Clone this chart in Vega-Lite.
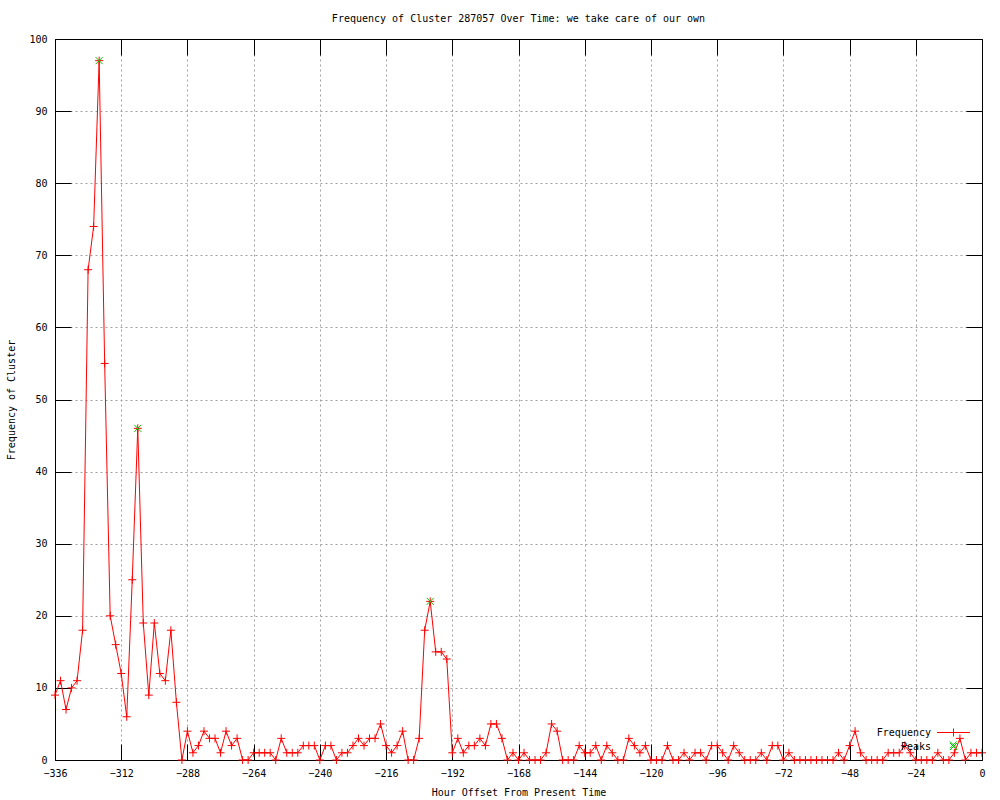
{
  "$schema": "https://vega.github.io/schema/vega-lite/v6.json",
  "width": 927,
  "height": 721,
  "autosize": "none",
  "padding": {"left": 55, "top": 39, "right": 18, "bottom": 40},
  "background": "white",
  "title": {"text": "Frequency of Cluster 287057 Over Time: we take care of our own", "font": "DejaVu Sans Mono", "fontSize": 10, "fontWeight": "normal", "color": "black", "offset": 10, "anchor": "middle"},
  "config": {
    "view": {"stroke": "black", "strokeWidth": 1},
    "axis": {"labelFont": "DejaVu Sans Mono", "labelFontSize": 10, "labelColor": "black", "titleFont": "DejaVu Sans Mono", "titleFontSize": 10, "titleFontWeight": "normal", "titleColor": "black", "domain": true, "domainColor": "black", "domainWidth": 1, "tickColor": "black", "tickWidth": 1, "gridColor": "#a0a0a0", "gridDash": [2, 3], "gridWidth": 1, "gridOpacity": 1}
  },
  "data": {"values": [
    {"h": -336, "v": 9, "s": "Frequency"}, {"h": -334, "v": 11, "s": "Frequency"}, {"h": -332, "v": 7, "s": "Frequency"}, {"h": -330, "v": 10, "s": "Frequency"},
    {"h": -328, "v": 11, "s": "Frequency"}, {"h": -326, "v": 18, "s": "Frequency"}, {"h": -324, "v": 68, "s": "Frequency"}, {"h": -322, "v": 74, "s": "Frequency"},
    {"h": -320, "v": 97, "s": "Frequency"}, {"h": -318, "v": 55, "s": "Frequency"}, {"h": -316, "v": 20, "s": "Frequency"}, {"h": -314, "v": 16, "s": "Frequency"},
    {"h": -312, "v": 12, "s": "Frequency"}, {"h": -310, "v": 6, "s": "Frequency"}, {"h": -308, "v": 25, "s": "Frequency"}, {"h": -306, "v": 46, "s": "Frequency"},
    {"h": -304, "v": 19, "s": "Frequency"}, {"h": -302, "v": 9, "s": "Frequency"}, {"h": -300, "v": 19, "s": "Frequency"}, {"h": -298, "v": 12, "s": "Frequency"},
    {"h": -296, "v": 11, "s": "Frequency"}, {"h": -294, "v": 18, "s": "Frequency"}, {"h": -292, "v": 8, "s": "Frequency"}, {"h": -290, "v": 0, "s": "Frequency"},
    {"h": -288, "v": 4, "s": "Frequency"}, {"h": -286, "v": 1, "s": "Frequency"}, {"h": -284, "v": 2, "s": "Frequency"}, {"h": -282, "v": 4, "s": "Frequency"},
    {"h": -280, "v": 3, "s": "Frequency"}, {"h": -278, "v": 3, "s": "Frequency"}, {"h": -276, "v": 1, "s": "Frequency"}, {"h": -274, "v": 4, "s": "Frequency"},
    {"h": -272, "v": 2, "s": "Frequency"}, {"h": -270, "v": 3, "s": "Frequency"}, {"h": -268, "v": 0, "s": "Frequency"}, {"h": -266, "v": 0, "s": "Frequency"},
    {"h": -264, "v": 1, "s": "Frequency"}, {"h": -262, "v": 1, "s": "Frequency"}, {"h": -260, "v": 1, "s": "Frequency"}, {"h": -258, "v": 1, "s": "Frequency"},
    {"h": -256, "v": 0, "s": "Frequency"}, {"h": -254, "v": 3, "s": "Frequency"}, {"h": -252, "v": 1, "s": "Frequency"}, {"h": -250, "v": 1, "s": "Frequency"},
    {"h": -248, "v": 1, "s": "Frequency"}, {"h": -246, "v": 2, "s": "Frequency"}, {"h": -244, "v": 2, "s": "Frequency"}, {"h": -242, "v": 2, "s": "Frequency"},
    {"h": -240, "v": 0, "s": "Frequency"}, {"h": -238, "v": 2, "s": "Frequency"}, {"h": -236, "v": 2, "s": "Frequency"}, {"h": -234, "v": 0, "s": "Frequency"},
    {"h": -232, "v": 1, "s": "Frequency"}, {"h": -230, "v": 1, "s": "Frequency"}, {"h": -228, "v": 2, "s": "Frequency"}, {"h": -226, "v": 3, "s": "Frequency"},
    {"h": -224, "v": 2, "s": "Frequency"}, {"h": -222, "v": 3, "s": "Frequency"}, {"h": -220, "v": 3, "s": "Frequency"}, {"h": -218, "v": 5, "s": "Frequency"},
    {"h": -216, "v": 2, "s": "Frequency"}, {"h": -214, "v": 1, "s": "Frequency"}, {"h": -212, "v": 2, "s": "Frequency"}, {"h": -210, "v": 4, "s": "Frequency"},
    {"h": -208, "v": 0, "s": "Frequency"}, {"h": -206, "v": 0, "s": "Frequency"}, {"h": -204, "v": 3, "s": "Frequency"}, {"h": -202, "v": 18, "s": "Frequency"},
    {"h": -200, "v": 22, "s": "Frequency"}, {"h": -198, "v": 15, "s": "Frequency"}, {"h": -196, "v": 15, "s": "Frequency"}, {"h": -194, "v": 14, "s": "Frequency"},
    {"h": -192, "v": 1, "s": "Frequency"}, {"h": -190, "v": 3, "s": "Frequency"}, {"h": -188, "v": 1, "s": "Frequency"}, {"h": -186, "v": 2, "s": "Frequency"},
    {"h": -184, "v": 2, "s": "Frequency"}, {"h": -182, "v": 3, "s": "Frequency"}, {"h": -180, "v": 2, "s": "Frequency"}, {"h": -178, "v": 5, "s": "Frequency"},
    {"h": -176, "v": 5, "s": "Frequency"}, {"h": -174, "v": 3, "s": "Frequency"}, {"h": -172, "v": 0, "s": "Frequency"}, {"h": -170, "v": 1, "s": "Frequency"},
    {"h": -168, "v": 0, "s": "Frequency"}, {"h": -166, "v": 1, "s": "Frequency"}, {"h": -164, "v": 0, "s": "Frequency"}, {"h": -162, "v": 0, "s": "Frequency"},
    {"h": -160, "v": 0, "s": "Frequency"}, {"h": -158, "v": 1, "s": "Frequency"}, {"h": -156, "v": 5, "s": "Frequency"}, {"h": -154, "v": 4, "s": "Frequency"},
    {"h": -152, "v": 0, "s": "Frequency"}, {"h": -150, "v": 0, "s": "Frequency"}, {"h": -148, "v": 0, "s": "Frequency"}, {"h": -146, "v": 2, "s": "Frequency"},
    {"h": -144, "v": 1, "s": "Frequency"}, {"h": -142, "v": 1, "s": "Frequency"}, {"h": -140, "v": 2, "s": "Frequency"}, {"h": -138, "v": 0, "s": "Frequency"},
    {"h": -136, "v": 2, "s": "Frequency"}, {"h": -134, "v": 1, "s": "Frequency"}, {"h": -132, "v": 0, "s": "Frequency"}, {"h": -130, "v": 0, "s": "Frequency"},
    {"h": -128, "v": 3, "s": "Frequency"}, {"h": -126, "v": 2, "s": "Frequency"}, {"h": -124, "v": 1, "s": "Frequency"}, {"h": -122, "v": 2, "s": "Frequency"},
    {"h": -120, "v": 0, "s": "Frequency"}, {"h": -118, "v": 0, "s": "Frequency"}, {"h": -116, "v": 0, "s": "Frequency"}, {"h": -114, "v": 2, "s": "Frequency"},
    {"h": -112, "v": 0, "s": "Frequency"}, {"h": -110, "v": 0, "s": "Frequency"}, {"h": -108, "v": 1, "s": "Frequency"}, {"h": -106, "v": 0, "s": "Frequency"},
    {"h": -104, "v": 1, "s": "Frequency"}, {"h": -102, "v": 1, "s": "Frequency"}, {"h": -100, "v": 0, "s": "Frequency"}, {"h": -98, "v": 2, "s": "Frequency"},
    {"h": -96, "v": 2, "s": "Frequency"}, {"h": -94, "v": 1, "s": "Frequency"}, {"h": -92, "v": 0, "s": "Frequency"}, {"h": -90, "v": 2, "s": "Frequency"},
    {"h": -88, "v": 1, "s": "Frequency"}, {"h": -86, "v": 0, "s": "Frequency"}, {"h": -84, "v": 0, "s": "Frequency"}, {"h": -82, "v": 0, "s": "Frequency"},
    {"h": -80, "v": 1, "s": "Frequency"}, {"h": -78, "v": 0, "s": "Frequency"}, {"h": -76, "v": 2, "s": "Frequency"}, {"h": -74, "v": 2, "s": "Frequency"},
    {"h": -72, "v": 0, "s": "Frequency"}, {"h": -70, "v": 1, "s": "Frequency"}, {"h": -68, "v": 0, "s": "Frequency"}, {"h": -66, "v": 0, "s": "Frequency"},
    {"h": -64, "v": 0, "s": "Frequency"}, {"h": -62, "v": 0, "s": "Frequency"}, {"h": -60, "v": 0, "s": "Frequency"}, {"h": -58, "v": 0, "s": "Frequency"},
    {"h": -56, "v": 0, "s": "Frequency"}, {"h": -54, "v": 0, "s": "Frequency"}, {"h": -52, "v": 1, "s": "Frequency"}, {"h": -50, "v": 0, "s": "Frequency"},
    {"h": -48, "v": 2, "s": "Frequency"}, {"h": -46, "v": 4, "s": "Frequency"}, {"h": -44, "v": 1, "s": "Frequency"}, {"h": -42, "v": 0, "s": "Frequency"},
    {"h": -40, "v": 0, "s": "Frequency"}, {"h": -38, "v": 0, "s": "Frequency"}, {"h": -36, "v": 0, "s": "Frequency"}, {"h": -34, "v": 1, "s": "Frequency"},
    {"h": -32, "v": 1, "s": "Frequency"}, {"h": -30, "v": 1, "s": "Frequency"}, {"h": -28, "v": 2, "s": "Frequency"}, {"h": -26, "v": 1, "s": "Frequency"},
    {"h": -24, "v": 0, "s": "Frequency"}, {"h": -22, "v": 0, "s": "Frequency"}, {"h": -20, "v": 0, "s": "Frequency"}, {"h": -18, "v": 0, "s": "Frequency"},
    {"h": -16, "v": 1, "s": "Frequency"}, {"h": -14, "v": 0, "s": "Frequency"}, {"h": -12, "v": 0, "s": "Frequency"}, {"h": -10, "v": 1, "s": "Frequency"},
    {"h": -8, "v": 3, "s": "Frequency"}, {"h": -6, "v": 0, "s": "Frequency"}, {"h": -4, "v": 1, "s": "Frequency"}, {"h": -2, "v": 1, "s": "Frequency"},
    {"h": 0, "v": 1, "s": "Frequency"},
    {"h": -320, "v": 97, "s": "Peaks"}, {"h": -306, "v": 46, "s": "Peaks"}, {"h": -200, "v": 22, "s": "Peaks"}, {"h": -10.4, "v": 2.1, "s": "Peaks"}
  ]},
  "layer": [
    {
      "transform": [{"filter": "datum.s === 'Frequency'"}],
      "mark": {"type": "line", "color": "#ff0000", "strokeWidth": 1},
      "encoding": {
        "x": {"field": "h", "type": "quantitative", "scale": {"domain": [-336, 0], "nice": false, "zero": false},
          "axis": {"orient": "bottom", "values": [-336, -312, -288, -264, -240, -216, -192, -168, -144, -120, -96, -72, -48, -24, 0], "title": "Hour Offset From Present Time", "grid": true, "tickSize": -16, "labelPadding": 24, "titlePadding": 9, "labelFlush": false, "labelOverlap": false}},
        "y": {"field": "v", "type": "quantitative", "scale": {"domain": [0, 100], "nice": false},
          "axis": {"orient": "left", "values": [0, 10, 20, 30, 40, 50, 60, 70, 80, 90, 100], "title": "Frequency of Cluster", "grid": true, "tickSize": -16, "labelPadding": 24, "titlePadding": 12, "labelFlush": false, "labelOverlap": false}}
      }
    },
    {
      "transform": [{"filter": "datum.s === 'Frequency'"}],
      "mark": {"type": "point", "filled": false, "strokeWidth": 1, "size": 64, "opacity": 1, "color": "#ff0000", "shape": "M-1,0H1M0,-1V1"},
      "encoding": {
        "x": {"field": "h", "type": "quantitative",
          "axis": {"orient": "top", "values": [-336, -312, -288, -264, -240, -216, -192, -168, -144, -120, -96, -72, -48, -24, 0], "labels": false, "title": null, "grid": false, "tickSize": -16, "zindex": 1}},
        "y": {"field": "v", "type": "quantitative",
          "axis": {"orient": "right", "values": [0, 10, 20, 30, 40, 50, 60, 70, 80, 90, 100], "labels": false, "title": null, "grid": false, "tickSize": -16, "zindex": 1}}
      }
    },
    {
      "transform": [{"filter": "datum.s === 'Peaks'"}],
      "mark": {"type": "point", "filled": false, "strokeWidth": 1, "size": 196, "opacity": 1},
      "encoding": {
        "x": {"field": "h", "type": "quantitative", "axis": null},
        "y": {"field": "v", "type": "quantitative", "axis": null},
        "color": {"field": "s", "type": "nominal", "scale": {"domain": ["Frequency", "Peaks"], "range": ["#ff0000", "#00c000"]},
          "legend": {"title": null, "orient": "none", "legendX": 891, "legendY": 686, "labelFont": "DejaVu Sans Mono", "labelFontSize": 10, "labelColor": "black", "labelAlign": "right", "labelOffset": -30, "symbolSize": 196, "symbolStrokeWidth": 1, "rowPadding": 0, "padding": 0}},
        "shape": {"field": "s", "type": "nominal", "scale": {"domain": ["Frequency", "Peaks"], "range": ["M-2.36,0H2.36M0,-0.57V0.57", "M-0.5,-0.5L0.5,0.5M-0.5,0.5L0.5,-0.5"]},
          "legend": {"title": null, "orient": "none", "legendX": 891, "legendY": 686, "labelFont": "DejaVu Sans Mono", "labelFontSize": 10, "labelColor": "black", "labelAlign": "right", "labelOffset": -30, "symbolSize": 196, "symbolStrokeWidth": 1, "rowPadding": 0, "padding": 0}}
      }
    }
  ],
  "resolve": {"axis": {"x": "independent", "y": "independent"}}
}
